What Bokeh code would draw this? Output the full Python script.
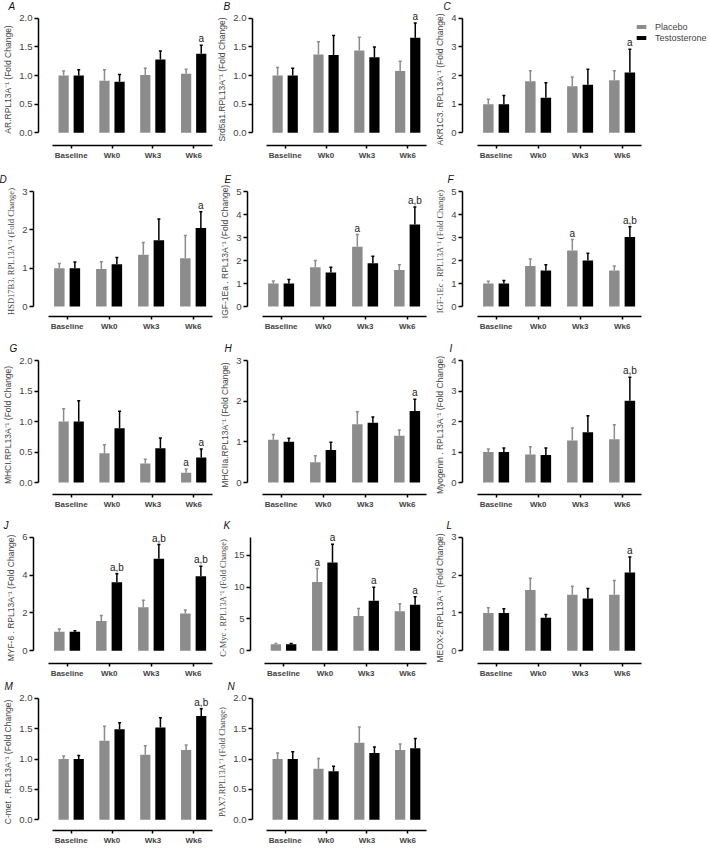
from bokeh.plotting import figure
from bokeh.layouts import column, row
from bokeh.models import (ColumnDataSource, Whisker, TeeHead, FixedTicker, Range1d,
                          Legend, LegendItem)
from bokeh.transform import dodge
from bokeh.core.properties import value
from bokeh.embed import file_html
from bokeh.resources import INLINE

categories = ["Baseline", "Wk0", "Wk3", "Wk6"]
groups = ["Placebo", "Testosterone"]

# ---- data (mean, SEM) ----
ar_p = [1.0, 0.91, 1.01, 1.03];   ar_pe = [0.08, 0.19, 0.12, 0.08]
ar_t = [1.0, 0.89, 1.28, 1.38];   ar_te = [0.10, 0.13, 0.15, 0.15]
ar_sig = [("Wk6", "Testosterone", "a")]

srd_p = [1.0, 1.37, 1.44, 1.08];  srd_pe = [0.14, 0.22, 0.23, 0.17]
srd_t = [1.0, 1.36, 1.32, 1.66];  srd_te = [0.13, 0.34, 0.18, 0.26]
srd_sig = [("Wk6", "Testosterone", "a")]

akr_p = [1.0, 1.80, 1.63, 1.84];  akr_pe = [0.17, 0.37, 0.32, 0.33]
akr_t = [1.0, 1.22, 1.68, 2.11];  akr_te = [0.30, 0.53, 0.54, 0.81]
akr_sig = [("Wk6", "Testosterone", "a")]

hsd_p = [1.0, 0.98, 1.35, 1.26];  hsd_pe = [0.12, 0.19, 0.32, 0.59]
hsd_t = [1.0, 1.10, 1.73, 2.05];  hsd_te = [0.16, 0.18, 0.55, 0.42]
hsd_sig = [("Wk6", "Testosterone", "a")]

igfa_p = [1.0, 1.71, 2.60, 1.59]; igfa_pe = [0.11, 0.29, 0.53, 0.22]
igfa_t = [1.0, 1.48, 1.88, 3.56]; igfa_te = [0.17, 0.23, 0.30, 0.77]
igfa_sig = [("Wk3", "Placebo", "a"), ("Wk6", "Testosterone", "a,b")]

igfc_p = [1.0, 1.76, 2.44, 1.56]; igfc_pe = [0.10, 0.30, 0.47, 0.20]
igfc_t = [1.0, 1.56, 2.00, 3.02]; igfc_te = [0.13, 0.25, 0.31, 0.45]
igfc_sig = [("Wk3", "Placebo", "a"), ("Wk6", "Testosterone", "a,b")]

mhc1_p = [1.0, 0.48, 0.31, 0.16]; mhc1_pe = [0.21, 0.14, 0.07, 0.06]
mhc1_t = [1.0, 0.89, 0.56, 0.41]; mhc1_te = [0.34, 0.28, 0.17, 0.14]
mhc1_sig = [("Wk6", "Placebo", "a"), ("Wk6", "Testosterone", "a")]

mhc2_p = [1.05, 0.50, 1.43, 1.15]; mhc2_pe = [0.13, 0.16, 0.31, 0.14]
mhc2_t = [1.0, 0.80, 1.47, 1.76];  mhc2_te = [0.09, 0.19, 0.14, 0.29]
mhc2_sig = [("Wk6", "Testosterone", "a")]

myog_p = [1.0, 0.92, 1.38, 1.42]; myog_pe = [0.10, 0.25, 0.41, 0.47]
myog_t = [1.0, 0.90, 1.65, 2.68]; myog_te = [0.13, 0.23, 0.54, 0.77]
myog_sig = [("Wk6", "Testosterone", "a,b")]

myf_p = [1.0, 1.57, 2.30, 1.97];  myf_pe = [0.15, 0.30, 0.37, 0.18]
myf_t = [1.0, 3.63, 4.87, 3.95];  myf_te = [0.06, 0.44, 0.75, 0.52]
myf_sig = [("Wk0", "Testosterone", "a,b"), ("Wk3", "Testosterone", "a,b"), ("Wk6", "Testosterone", "a,b")]

myc_p = [1.0, 10.8, 5.45, 6.18];  myc_pe = [0.15, 2.1, 1.2, 1.2]
myc_t = [1.0, 13.86, 7.84, 7.21]; myc_te = [0.15, 2.85, 2.12, 1.25]
myc_sig = [("Wk0", "Placebo", "a"), ("Wk0", "Testosterone", "a"), ("Wk3", "Testosterone", "a"), ("Wk6", "Testosterone", "a")]

meox_p = [1.0, 1.61, 1.48, 1.48]; meox_pe = [0.14, 0.31, 0.23, 0.38]
meox_t = [1.0, 0.87, 1.38, 2.07]; meox_te = [0.11, 0.09, 0.27, 0.41]
meox_sig = [("Wk6", "Testosterone", "a")]

cmet_p = [1.0, 1.30, 1.07, 1.15]; cmet_pe = [0.05, 0.24, 0.15, 0.08]
cmet_t = [1.0, 1.49, 1.52, 1.71]; cmet_te = [0.06, 0.11, 0.16, 0.12]
cmet_sig = [("Wk6", "Testosterone", "a,b")]

pax_p = [1.0, 0.84, 1.27, 1.15];  pax_pe = [0.10, 0.17, 0.26, 0.10]
pax_t = [1.0, 0.80, 1.10, 1.18];  pax_te = [0.12, 0.08, 0.10, 0.16]
pax_sig = []

# y-axis ticks
ticks_2 = [0, 0.5, 1.0, 1.5, 2.0]
ticks_3 = [0, 1, 2, 3]
ticks_4 = [0, 1, 2, 3, 4]
ticks_5 = [0, 1, 2, 3, 4, 5]
ticks_6 = [0, 2, 4, 6]
ticks_15 = [0, 5, 10, 15]

SANS = "Liberation Sans"
SERIF = "Liberation Serif"
SUP = "\u207b\u00b9"

panels = [
    ("A", "AR.RPL13A" + SUP + " (Fold Change)", SANS, ticks_2, 2.0, True, ar_p, ar_pe, ar_t, ar_te, ar_sig),
    ("B", "Srd5a1.RPL13A" + SUP + " (Fold Change)", SANS, ticks_2, 2.0, True, srd_p, srd_pe, srd_t, srd_te, srd_sig),
    ("C", "AKR1C3. RPL13A" + SUP + " (Fold Change)", SANS, ticks_4, 4, False, akr_p, akr_pe, akr_t, akr_te, akr_sig),
    ("D", "HSD17B3. RPL13A" + SUP + " (Fold Change)", SERIF, ticks_3, 3, False, hsd_p, hsd_pe, hsd_t, hsd_te, hsd_sig),
    ("E", "IGF-1Ea . RPL13A" + SUP + " (Fold Change)", SANS, ticks_5, 5, False, igfa_p, igfa_pe, igfa_t, igfa_te, igfa_sig),
    ("F", "IGF-1Ec . RPL13A" + SUP + " (Fold Change)", SERIF, ticks_5, 5, False, igfc_p, igfc_pe, igfc_t, igfc_te, igfc_sig),
    ("G", "MHCI.RPL13A" + SUP + " (Fold Change)", SANS, ticks_2, 2.0, True, mhc1_p, mhc1_pe, mhc1_t, mhc1_te, mhc1_sig),
    ("H", "MHCIIa.RPL13A" + SUP + " (Fold Change)", SANS, ticks_3, 3, False, mhc2_p, mhc2_pe, mhc2_t, mhc2_te, mhc2_sig),
    ("I", "Myogenin . RPL13A" + SUP + " (Fold Change)", SANS, ticks_4, 4, False, myog_p, myog_pe, myog_t, myog_te, myog_sig),
    ("J", "MYF-6 . RPL13A" + SUP + " (Fold Change)", SANS, ticks_6, 6, False, myf_p, myf_pe, myf_t, myf_te, myf_sig),
    ("K", "C-Myc . RPL13A" + SUP + " (Fold Change)", SERIF, ticks_15, 17.8, False, myc_p, myc_pe, myc_t, myc_te, myc_sig),
    ("L", "MEOX-2.RPL13A" + SUP + " (Fold Change)", SANS, ticks_3, 3, False, meox_p, meox_pe, meox_t, meox_te, meox_sig),
    ("M", "C-met . RPL13A" + SUP + " (Fold Change)", SANS, ticks_2, 2.0, True, cmet_p, cmet_pe, cmet_t, cmet_te, cmet_sig),
    ("N", "PAX7.RPL13A" + SUP + " (Fold Change)", SERIF, ticks_2, 2.0, True, pax_p, pax_pe, pax_t, pax_te, pax_sig),
]

# ---- layout / style ----
GRAY = "#8c8c8c"
BLACK = "#000000"
COL_W = [214, 215, 279]
COL_L = [33, 33, 33]
LETTER_OFFSET = {"A": -30, "B": -29, "C": -19, "D": -34, "E": -23, "F": -15, "G": -29,
                 "H": -23, "I": -13, "J": -30, "K": -27, "L": -16, "M": -34, "N": -25}
PPU_X = 42.0
ROW_T = [11, 15, 15, 15, 11]
ROW_H = [171, 169, 177, 163, 170]
ROW_B = [26, 24, 23, 15, 20]
ROW_GAP = [13, 10, 12, 13, 11]
EXT = 5
X0 = -0.8
OFF = 0.185
BW = 0.25


def make_panel(spec, ci, ri):
    letter, ylabel, yfont, yticks, ytop, dec, pm, pe, tm, te, sig = spec
    w, h = COL_W[ci], ROW_H[ri]
    fw = w - COL_L[ci]
    fh = h - ROW_T[ri] - ROW_B[ri]
    gap = ROW_GAP[ri]
    ppu_y = (fh - EXT - gap) / ytop
    xend = X0 + fw / PPU_X
    p = figure(width=w, height=h, output_backend="svg", toolbar_location=None,
               x_range=Range1d(X0, xend),
               y_range=Range1d(-gap / ppu_y, ytop + EXT / ppu_y),
               min_border_left=COL_L[ci], min_border_right=0,
               min_border_top=ROW_T[ri], min_border_bottom=ROW_B[ri],
               title=letter)
    p.outline_line_color = None
    p.grid.visible = False
    p.background_fill_color = "white"
    p.border_fill_color = "white"
    p.title.text_font = SANS
    p.title.text_font_style = "italic"
    p.title.text_font_size = "10px"
    p.title.text_color = "#111111"
    p.title.align = "left"
    p.title.vertical_align = "top"
    p.title.offset = LETTER_OFFSET[letter]
    p.title.standoff = 0

    xs = list(range(len(categories)))
    src = ColumnDataSource(dict(
        x=xs, cat=categories,
        p=pm, pu=[m + e for m, e in zip(pm, pe)],
        t=tm, tu=[m + e for m, e in zip(tm, te)],
    ))
    rp = p.vbar(x=dodge("x", -OFF), top="p", bottom=0, width=BW, source=src,
                fill_color=GRAY, line_color=None)
    rt = p.vbar(x=dodge("x", OFF), top="t", bottom=0, width=BW, source=src,
                fill_color=BLACK, line_color=None)
    for col_lo, col_hi, off, color in (("p", "pu", -OFF, GRAY), ("t", "tu", OFF, BLACK)):
        p.add_layout(Whisker(source=src, base=dodge("x", off), lower=col_lo, upper=col_hi,
                             line_color=color, line_width=1.5, lower_head=None,
                             upper_head=TeeHead(size=3, line_color=color, line_width=1.5)))

    if sig:
        sx, sy, st = [], [], []
        for cat, grp, txt in sig:
            i = categories.index(cat)
            if grp == groups[0]:
                sx.append(i - OFF); sy.append(pm[i] + pe[i])
            else:
                sx.append(i + OFF); sy.append(tm[i] + te[i])
            st.append(txt)
        p.text(x=sx, y=sy, text=st, text_align="center", text_baseline="bottom",
               y_offset=-1, text_font=value(SANS), text_font_size="10px", text_color="#222222")

    # y axis
    ya = p.yaxis[0]
    ya.bounds = (0, ytop)
    ya.ticker = FixedTicker(ticks=yticks)
    if dec:
        ya.major_label_overrides = {t: "%.1f" % t for t in yticks}
    ya.minor_tick_line_color = None
    ya.major_tick_in = 0
    ya.major_tick_out = 4
    ya.axis_line_width = 1.5
    ya.major_tick_line_width = 1.5
    ya.major_label_text_font = SANS
    ya.major_label_text_font_size = "9.5px"
    ya.major_label_standoff = 2
    ya.axis_label = ylabel
    ya.axis_label_text_font = yfont
    ya.axis_label_text_font_style = "normal"
    ya.axis_label_text_font_size = "8.5px"
    ya.axis_label_standoff = 3

    # x axis
    xa = p.xaxis[0]
    xa.bounds = (-0.45, len(categories) - 0.53)
    xa.ticker = FixedTicker(ticks=xs)
    xa.major_label_overrides = {i: c for i, c in enumerate(categories)}
    xa.minor_tick_line_color = None
    xa.major_tick_in = 0
    xa.major_tick_out = 3
    xa.axis_line_width = 1.5
    xa.major_tick_line_width = 1.5
    xa.major_label_text_font = SANS
    xa.major_label_text_font_style = "bold"
    xa.major_label_text_font_size = "8px"
    xa.major_label_standoff = 2

    if letter == "C":
        leg = Legend(items=[LegendItem(label=groups[0], renderers=[rp]),
                            LegendItem(label=groups[1], renderers=[rt])],
                     location=(173, fh - 32), glyph_width=12, glyph_height=5,
                     label_height=11, label_standoff=8, spacing=0, padding=0, margin=0,
                     border_line_color=None, background_fill_alpha=0,
                     label_text_font=SANS, label_text_font_size="9px")
        p.add_layout(leg)
    return p


rows = []
for ri in range(5):
    figs = []
    for ci in range(3):
        k = ri * 3 + ci
        if k < len(panels):
            figs.append(make_panel(panels[k], ci, ri))
    rows.append(row(*figs))
layout = column(*rows)

open("out.html", "w").write(file_html(layout, INLINE))
